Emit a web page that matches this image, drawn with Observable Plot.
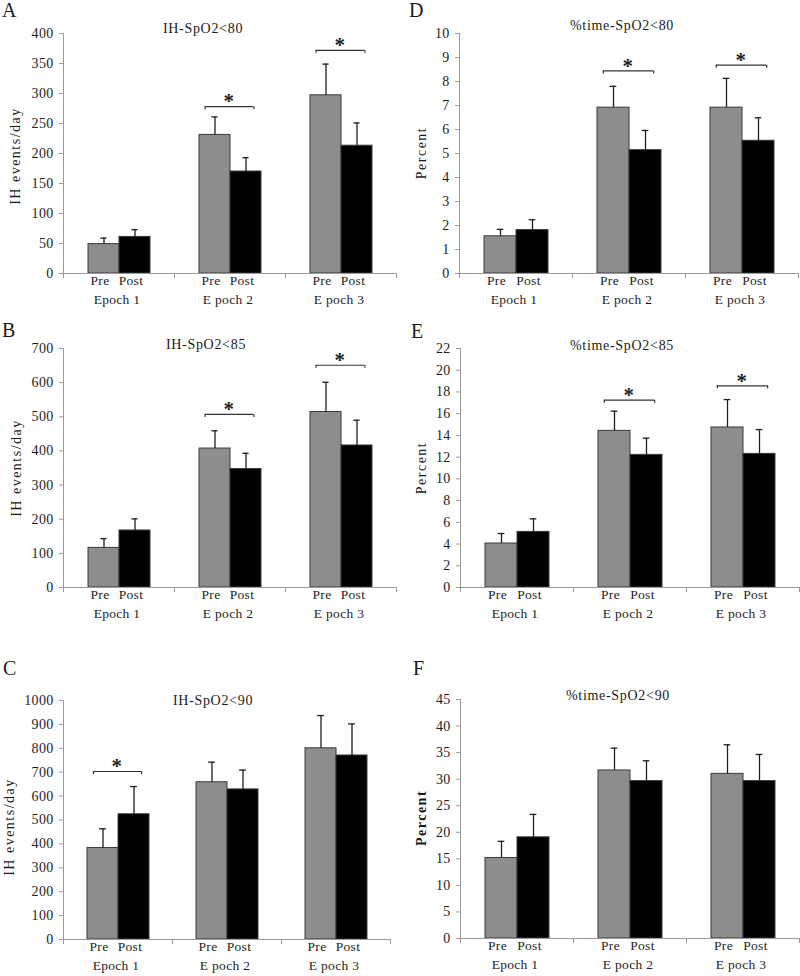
<!DOCTYPE html>
<html>
<head>
<meta charset="utf-8">
<script src="https://cdn.jsdelivr.net/npm/d3@7"></script>
<script src="https://cdn.jsdelivr.net/npm/@observablehq/plot@0.6"></script>
<style>
  html, body { margin: 0; padding: 0; background: #ffffff; }
  #fig { position: relative; width: 800px; height: 976px; overflow: hidden;
         font-family: "Liberation Serif", "Times New Roman", serif; color: #1a1a1a; }
  .panel { position: absolute; }
  .letter { position: absolute; font-size: 20px; line-height: 1; }
  .title { position: absolute; font-size: 14px; line-height: 1; white-space: nowrap;
           transform: translateX(-50%); letter-spacing: 0.7px; }
  .ylab { position: absolute; font-size: 14px; line-height: 1; white-space: nowrap;
          transform: translate(-50%, -50%) rotate(-90deg); letter-spacing: 1.5px; }
</style>
</head>
<body>
<div id="fig"></div>
<script>
// ---------- shared categories ----------
const epochs = ["Epoch 1", "E poch 2", "E poch 3"];
const groups = ["Pre", "Post"];

// ---------- Panel A: IH-SpO2<80 ----------
const A_pre = [49, 231, 297];
const A_preSE = [10, 30, 52];
const A_post = [61, 170, 213];
const A_postSE = [12, 23, 38];
const A_sigEpochs = ["E poch 2", "E poch 3"];
const A_sigLevels = [278, 372];
const A_ticks = [0, 50, 100, 150, 200, 250, 300, 350, 400];

// ---------- Panel B: IH-SpO2<85 ----------
const B_pre = [116, 407, 514];
const B_preSE = [27, 52, 87];
const B_post = [167, 347, 416];
const B_postSE = [34, 46, 74];
const B_sigEpochs = ["E poch 2", "E poch 3"];
const B_sigLevels = [507, 651];
const B_ticks = [0, 100, 200, 300, 400, 500, 600, 700];

// ---------- Panel C: IH-SpO2<90 ----------
const C_pre = [383, 658, 800];
const C_preSE = [80, 84, 137];
const C_post = [524, 628, 770];
const C_postSE = [116, 81, 132];
const C_sigEpochs = ["Epoch 1"];
const C_sigLevels = [703];
const C_ticks = [0, 100, 200, 300, 400, 500, 600, 700, 800, 900, 1000];

// ---------- Panel D: %time-SpO2<80 ----------
const D_pre = [1.55, 6.91, 6.91];
const D_preSE = [0.29, 0.89, 1.22];
const D_post = [1.81, 5.14, 5.53];
const D_postSE = [0.43, 0.82, 0.96];
const D_sigEpochs = ["E poch 2", "E poch 3"];
const D_sigLevels = [8.44, 8.68];
const D_ticks = [0, 1, 2, 3, 4, 5, 6, 7, 8, 9, 10];

// ---------- Panel E: %time-SpO2<85 ----------
const E_pre = [4.05, 14.42, 14.73];
const E_preSE = [0.92, 1.81, 2.57];
const E_post = [5.12, 12.21, 12.3];
const E_postSE = [1.2, 1.54, 2.24];
const E_sigEpochs = ["E poch 2", "E poch 3"];
const E_sigLevels = [17.24, 18.56];
const E_ticks = [0, 2, 4, 6, 8, 10, 12, 14, 16, 18, 20, 22];

// ---------- Panel F: %time-SpO2<90 ----------
const F_pre = [15.16, 31.64, 31.0];
const F_preSE = [3.14, 4.2, 5.47];
const F_post = [19.05, 29.64, 29.64];
const F_postSE = [4.32, 3.82, 5.01];
const F_sigEpochs = [];
const F_sigLevels = [];
const F_ticks = [0, 5, 10, 15, 20, 25, 30, 35, 40, 45];

// ---------- panel definitions (text + layout) ----------
const panels = [
  {letter: "A", title: "IH-SpO2<80", ylabel: "IH events/day", bold: false,
   pre: A_pre, preSE: A_preSE, post: A_post, postSE: A_postSE, sigEpochs: A_sigEpochs, sigLevels: A_sigLevels, ticks: A_ticks,
   box: {left: 0, top: 0, w: 400, h: 320, ml: 62, mr: 3, mt: 33, mb: 47},
   letterPos: [2, 0], titlePos: [203, 21.5], ylabPos: [16, 156]},
  {letter: "B", title: "IH-SpO2<85", ylabel: "IH events/day", bold: false,
   pre: B_pre, preSE: B_preSE, post: B_post, postSE: B_postSE, sigEpochs: B_sigEpochs, sigLevels: B_sigLevels, ticks: B_ticks,
   box: {left: 0, top: 320, w: 400, h: 320, ml: 62, mr: 3, mt: 28, mb: 53},
   letterPos: [2, 319.5], titlePos: [206, 337.5], ylabPos: [16.5, 468]},
  {letter: "C", title: "IH-SpO2<90", ylabel: "IH events/day", bold: false,
   pre: C_pre, preSE: C_preSE, post: C_post, postSE: C_postSE, sigEpochs: C_sigEpochs, sigLevels: C_sigLevels, ticks: C_ticks,
   box: {left: 0, top: 640, w: 400, h: 336, ml: 62, mr: 10, mt: 60, mb: 37},
   letterPos: [3, 658], titlePos: [213, 693.5], ylabPos: [10, 827]},
  {letter: "D", title: "%time-SpO2<80", ylabel: "Percent", bold: false,
   pre: D_pre, preSE: D_preSE, post: D_post, postSE: D_postSE, sigEpochs: D_sigEpochs, sigLevels: D_sigLevels, ticks: D_ticks,
   box: {left: 400, top: 0, w: 400, h: 320, ml: 58, mr: 1, mt: 33, mb: 47},
   letterPos: [409, 0], titlePos: [622, 18.5], ylabPos: [421.7, 153]},
  {letter: "E", title: "%time-SpO2<85", ylabel: "Percent", bold: false,
   pre: E_pre, preSE: E_preSE, post: E_post, postSE: E_postSE, sigEpochs: E_sigEpochs, sigLevels: E_sigLevels, ticks: E_ticks,
   box: {left: 400, top: 320, w: 400, h: 320, ml: 59, mr: 1, mt: 28, mb: 53},
   letterPos: [411, 321.3], titlePos: [622, 338.5], ylabPos: [421.7, 468]},
  {letter: "F", title: "%time-SpO2<90", ylabel: "Percent", bold: true,
   pre: F_pre, preSE: F_preSE, post: F_post, postSE: F_postSE, sigEpochs: F_sigEpochs, sigLevels: F_sigLevels, ticks: F_ticks,
   box: {left: 400, top: 640, w: 400, h: 336, ml: 59, mr: 1, mt: 59, mb: 38},
   letterPos: [413, 658], titlePos: [618, 688.5], ylabPos: [421.7, 818]}
];

const fig = document.getElementById("fig");
const axisGray = "#9b9b9b";
const ink = "#1e1e1e";
const barFrac = 0.57; // share of each epoch occupied by the pair of bars

function drawPanel(p) {
  const rows = [];
  p.pre.forEach((v, i) => rows.push({epoch: epochs[i], group: "Pre", value: v, se: p.preSE[i]}));
  p.post.forEach((v, i) => rows.push({epoch: epochs[i], group: "Post", value: v, se: p.postSE[i]}));
  const sig = p.sigEpochs.map((e, i) => ({epoch: e, level: p.sigLevels[i]}));
  const b = p.box;
  const innerH = b.h - b.mt - b.mb;
  const facetW = (b.w - b.ml - b.mr) / 3;
  const barW = facetW * barFrac / 2;
  const capInset = Math.max(0, (barW - 7) / 2);
  const outer = (2 / barFrac - 2) / 2;

  const chart = Plot.plot({
    width: b.w, height: b.h,
    marginLeft: b.ml, marginRight: b.mr, marginTop: b.mt, marginBottom: b.mb,
    style: {fontFamily: '"Liberation Serif", "Times New Roman", serif', fontSize: "14px",
            color: ink, background: "transparent", overflow: "visible", letterSpacing: "0.3px"},
    fx: {domain: epochs, padding: 0, axis: null, label: null},
    x: {domain: groups, paddingInner: 0, paddingOuter: outer, axis: null, label: null},
    y: {domain: [0, p.ticks[p.ticks.length - 1]], axis: null, label: null},
    color: {domain: groups, range: ["#8d8d8d", "#000000"]},
    marks: [
      Plot.barY(rows, {fx: "epoch", x: "group", y: "value", fill: "group", stroke: "#3a3a3a", strokeWidth: 1}),
      Plot.ruleX(rows, {fx: "epoch", x: "group", y1: "value", y2: d => d.value + d.se, stroke: ink, strokeWidth: 1.3}),
      Plot.tickY(rows, {fx: "epoch", x: "group", y: d => d.value + d.se, stroke: ink, strokeWidth: 1.3,
                        insetLeft: capInset, insetRight: capInset}),
      Plot.ruleY([0], {stroke: axisGray}),
      Plot.frame({anchor: "left", facetAnchor: "left", stroke: axisGray}),
      Plot.frame({anchor: "left", stroke: axisGray, insetTop: innerH, insetBottom: -4}),
      Plot.frame({anchor: "right", facetAnchor: "right", stroke: axisGray, insetTop: innerH, insetBottom: -4}),
      Plot.axisY({ticks: p.ticks, tickFormat: d3.format("d"), tickSize: 4, tickPadding: 6,
                  stroke: axisGray, fill: ink, label: null, fontSize: 14}),
      Plot.text(rows, {fx: "epoch", x: "group", text: "group", frameAnchor: "bottom", dy: 11, dx: -4,
                       fill: ink, fontSize: 13.5}),
      Plot.text(epochs, {fx: d => d, text: d => d, frameAnchor: "bottom", dy: 30, dx: -2,
                         fill: ink, fontSize: 13.5}),
      Plot.ruleY(sig, {fx: "epoch", x1: () => "Pre", x2: () => "Post", y: "level",
                       insetLeft: 6, insetRight: 8, stroke: "#333", strokeWidth: 1.2}),
      Plot.ruleX(sig, {fx: "epoch", x: () => "Pre", y1: "level", y2: "level", insetBottom: -3,
                       dx: -(barW / 2 - 6), stroke: "#333", strokeWidth: 1.2}),
      Plot.ruleX(sig, {fx: "epoch", x: () => "Post", y1: "level", y2: "level", insetBottom: -3,
                       dx: barW / 2 - 8, stroke: "#333", strokeWidth: 1.2}),
      Plot.text(sig, {fx: "epoch", y: "level", text: () => "*", dy: -5, dx: -1,
                      fontSize: 21, fontWeight: "bold", fill: ink})
    ]
  });

  const holder = document.createElement("div");
  holder.className = "panel";
  holder.style.left = b.left + "px";
  holder.style.top = b.top + "px";
  holder.appendChild(chart);
  fig.appendChild(holder);

  const letter = document.createElement("div");
  letter.className = "letter";
  letter.textContent = p.letter;
  letter.style.left = p.letterPos[0] + "px";
  letter.style.top = p.letterPos[1] + "px";
  fig.appendChild(letter);

  const title = document.createElement("div");
  title.className = "title";
  title.textContent = p.title;
  title.style.left = p.titlePos[0] + "px";
  title.style.top = p.titlePos[1] + "px";
  fig.appendChild(title);

  const ylab = document.createElement("div");
  ylab.className = "ylab";
  ylab.textContent = p.ylabel;
  ylab.style.left = p.ylabPos[0] + "px";
  ylab.style.top = p.ylabPos[1] + "px";
  if (p.bold) ylab.style.fontWeight = "bold";
  fig.appendChild(ylab);
}

panels.forEach(drawPanel);
</script>
</body>
</html>
